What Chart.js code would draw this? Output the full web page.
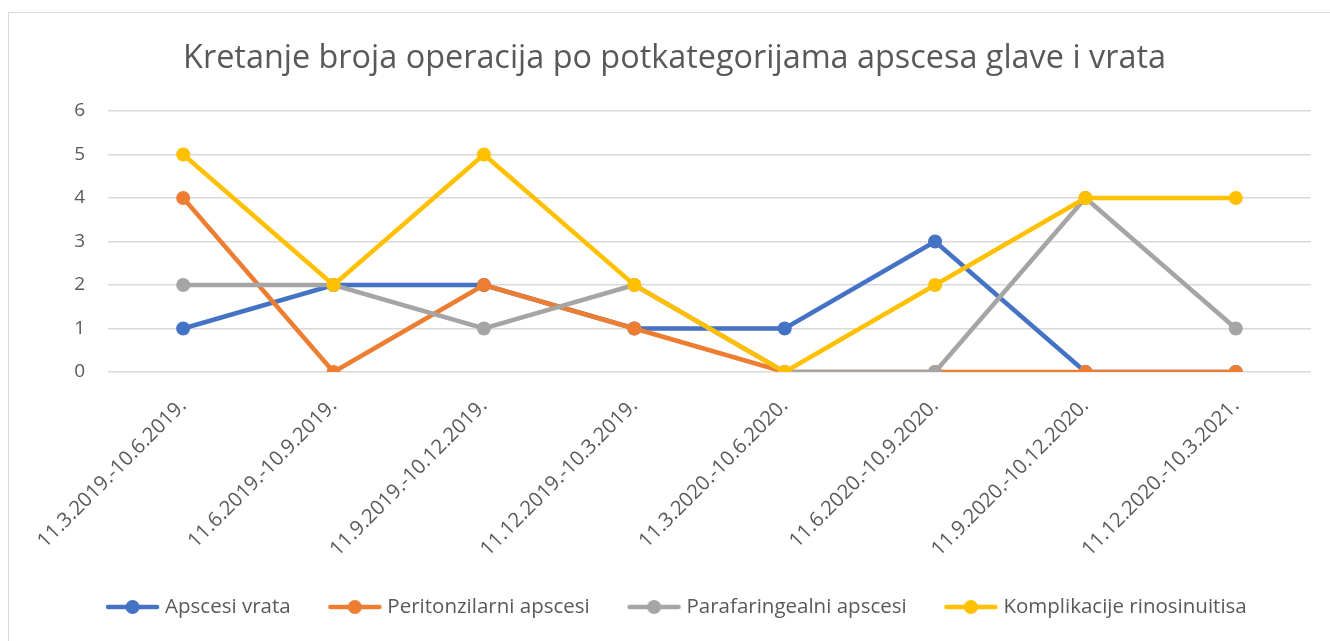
<!DOCTYPE html>
<html>
<head>
<meta charset="utf-8">
<script src="https://cdn.jsdelivr.net/npm/chart.js@4"></script>
<style>
  html, body { margin: 0; padding: 0; background: #fff; }
  #wrap { position: relative; width: 1330px; height: 641px; overflow: hidden; }
  #frame { position: absolute; left: 8px; top: 12px; width: 1340px; height: 660px; border: 1px solid #d9d9d9; box-sizing: border-box; }
  canvas { position: absolute; left: 0; top: 0; }
</style>
</head>
<body>
<div id="wrap">
  <div id="frame"></div>
  <canvas id="c" width="1330" height="641"></canvas>
</div>
<script>
const categories = [
  "11.3.2019.-10.6.2019.",
  "11.6.2019.-10.9.2019.",
  "11.9.2019.-10.12.2019.",
  "11.12.2019.-10.3.2019.",
  "11.3.2020.-10.6.2020.",
  "11.6.2020.-10.9.2020.",
  "11.9.2020.-10.12.2020.",
  "11.12.2020.-10.3.2021."
];
const apsceciVrata = [1, 2, 2, 1, 1, 3, 0, 0];
const peritonzilarni = [4, 0, 2, 1, 0, 0, 0, 0];
const parafaringealni = [2, 2, 1, 2, 0, 0, 4, 1];
const komplikacije = [5, 2, 5, 2, 0, 2, 4, 4];
const seriesNames = ["Apscesi vrata", "Peritonzilarni apscesi", "Parafaringealni apscesi", "Komplikacije rinosinuitisa"];
const yTicks = [0, 1, 2, 3, 4, 5, 6];
const titleText = "Kretanje broja operacija po potkategorijama apscesa glave i vrata";

const colors = ["#4472C4", "#ED7D31", "#A5A5A5", "#FFC000"];
const FONT = "'Open Sans', 'Noto Sans', sans-serif";
const TEXT = "#595959";

function legendMarker(color) {
  const cv = document.createElement('canvas');
  cv.width = 55; cv.height = 16;
  const g = cv.getContext('2d');
  g.strokeStyle = color; g.lineWidth = 4.5; g.lineCap = 'round';
  g.beginPath(); g.moveTo(3, 8); g.lineTo(52, 8); g.stroke();
  g.fillStyle = color;
  g.beginPath(); g.arc(27.5, 8, 7, 0, Math.PI * 2); g.fill();
  return cv;
}
const markers = colors.map(legendMarker);

const allSeries = [apsceciVrata, peritonzilarni, parafaringealni, komplikacije];
const datasets = allSeries.map((d, i) => ({
  label: seriesNames[i],
  data: d,
  order: allSeries.length - i,
  borderColor: colors[i],
  backgroundColor: colors[i],
  borderWidth: 4.5,
  pointRadius: 7,
  pointHoverRadius: 7,
  pointBorderWidth: 0,
  pointBackgroundColor: colors[i],
  tension: 0,
  fill: false
}));

const blockShift = {
  id: 'blockShift',
  afterLayout(chart) {
    if (chart.legend) { chart.legend.left += 46; }
    if (chart.titleBlock) { chart.titleBlock.left += 38; }
  }
};

new Chart(document.getElementById('c'), {
  type: 'line',
  data: { labels: categories, datasets: datasets },
  plugins: [blockShift],
  options: {
    responsive: false,
    animation: false,
    layout: { padding: { left: 0, right: 19, top: 20, bottom: 13.75 } },
    plugins: {
      tooltip: { enabled: false },
      title: {
        display: true,
        text: titleText,
        color: TEXT,
        font: { family: FONT, size: 32.4, weight: 'normal' },
        padding: { top: 19.5, bottom: 32.6 }
      },
      legend: {
        position: 'bottom',
        labels: {
          color: TEXT,
          font: { family: FONT, size: 20.5 },
          usePointStyle: true,
          pointStyleWidth: 44.5,
          padding: 42,
          sort: (a, b) => a.datasetIndex - b.datasetIndex,
          generateLabels: function(chart) {
            const items = Chart.defaults.plugins.legend.labels.generateLabels(chart);
            items.forEach((it) => { it.pointStyle = markers[it.datasetIndex]; });
            return items;
          }
        }
      }
    },
    scales: {
      x: {
        offset: true,
        grid: { display: false, drawTicks: false },
        border: { display: false },
        ticks: {
          color: TEXT,
          font: { family: FONT, size: 20.3 },
          minRotation: 45,
          maxRotation: 45,
          padding: 22,
          autoSkip: false
        },
        afterFit: function(s) { s.height = 182.75; }
      },
      y: {
        min: 0,
        max: 6,
        afterBuildTicks: function(s) { s.ticks = yTicks.map(v => ({ value: v })); },
        grid: { color: "#d9d9d9", lineWidth: 1.5, drawTicks: false },
        border: { display: false },
        ticks: {
          color: TEXT,
          font: { family: FONT, size: 19 },
          padding: 23
        },
        afterFit: function(s) { s.width = 108; }
      }
    }
  }
});
</script>
</body>
</html>
